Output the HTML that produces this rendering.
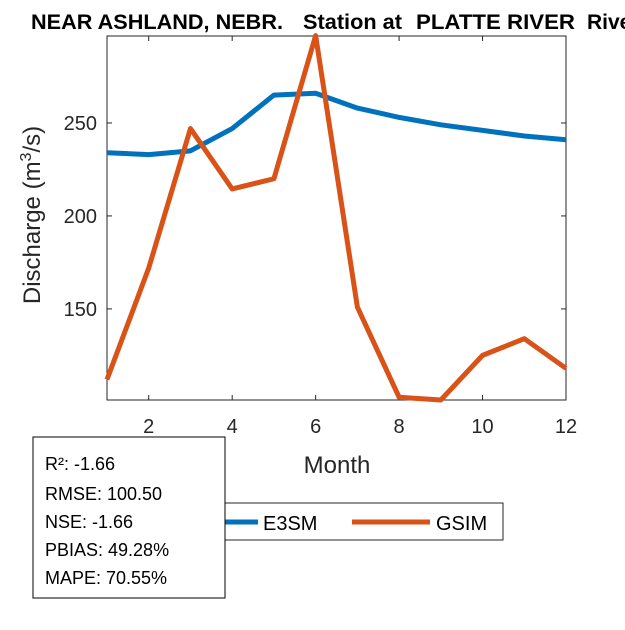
<!DOCTYPE html>
<html><head><meta charset="utf-8"><style>
body{margin:0;background:#fff;}
svg text{font-family:"Liberation Sans",Arial,sans-serif;}
</style></head><body>
<svg id="chart" width="625" height="625">
<g font-size="21" font-weight="bold" fill="#000">
<text x="31" y="29" textLength="252" lengthAdjust="spacingAndGlyphs">NEAR ASHLAND, NEBR.</text>
<text x="303" y="29" textLength="99" lengthAdjust="spacingAndGlyphs">Station at</text>
<text x="416" y="29" textLength="159" lengthAdjust="spacingAndGlyphs">PLATTE RIVER</text>
<text x="587" y="29">River</text>
</g>
<g id="axes"></g>
<g id="series"></g>
<text x="337" y="473" font-size="24" text-anchor="middle" fill="#262626">Month</text>
<text transform="translate(40,215) rotate(-90)" font-size="24" text-anchor="middle" fill="#262626">Discharge (m<tspan dy="-9" font-size="16">3</tspan><tspan dy="9">/s)</tspan></text>
<g>
<rect x="219" y="503" width="284" height="37" fill="#fff" stroke="#262626" stroke-width="1"/>
<line x1="225" y1="522" x2="258" y2="522" stroke="#0072BD" stroke-width="5"/>
<text x="263" y="530" font-size="20" fill="#000">E3SM</text>
<line x1="352" y1="522" x2="430" y2="522" stroke="#D95319" stroke-width="5"/>
<text x="436" y="530" font-size="20" fill="#000">GSIM</text>
</g>
<g>
<rect x="33" y="437" width="192" height="161" fill="#fff" stroke="#000" stroke-width="1"/>
<text font-size="18" fill="#000">
<tspan x="45" y="470">R²: -1.66</tspan>
<tspan x="45" y="500">RMSE: 100.50</tspan>
<tspan x="45" y="528">NSE: -1.66</tspan>
<tspan x="45" y="556">PBIAS: 49.28%</tspan>
<tspan x="45" y="584">MAPE: 70.55%</tspan>
</text>
</g>
</svg>
<script>
const months=[1,2,3,4,5,6,7,8,9,10,11,12];
const e3sm=[234,233,235,247,265,266,258,253,249,246,243,241];
const gsim=[112,172,247,214.5,220,297,151,102.5,101,125,134,118];
const xTicks=[2,4,6,8,10,12];
const yTicks=[150,200,250];
const NS='http://www.w3.org/2000/svg';
const X0=107,X1=566,Y0=400,Y1=30,xMin=1,xMax=12,yMin=101,yMax=300;
const YTOP=36;
const sx=v=>X0+(v-xMin)/(xMax-xMin)*(X1-X0);
const sy=v=>Y0-(v-yMin)/(yMax-yMin)*(Y0-Y1);
function mk(t,a,p){const e=document.createElementNS(NS,t);for(const k in a)e.setAttribute(k,a[k]);p.appendChild(e);return e;}
const ax=document.getElementById('axes');
const box=mk('rect',{x:X0,y:YTOP,width:X1-X0,height:Y0-YTOP,fill:'none',stroke:'#262626'},ax);


xTicks.forEach(v=>{const x=sx(v);mk('line',{x1:x,y1:Y0,x2:x,y2:Y0-5,stroke:'#262626'},ax);
mk('line',{x1:x,y1:YTOP,x2:x,y2:YTOP+5,stroke:'#262626'},ax);
const t=mk('text',{x:x,y:Y0+33,'font-size':20,'text-anchor':'middle',fill:'#262626'},ax);t.textContent=v;

});
yTicks.forEach(v=>{const y=sy(v);mk('line',{x1:X0,y1:y,x2:X0+5,y2:y,stroke:'#262626'},ax);
mk('line',{x1:X1,y1:y,x2:X1-5,y2:y,stroke:'#262626'},ax);
const t=mk('text',{x:X0-10,y:y+7,'font-size':20,'text-anchor':'end',fill:'#262626'},ax);t.textContent=v;

});
const sg=document.getElementById('series');
function line(data,color,name){const p=mk('polyline',{points:data.map((v,i)=>sx(months[i])+','+sy(v)).join(' '),fill:'none',stroke:color,'stroke-width':5,'stroke-linejoin':'round'},sg);

}
line(e3sm,'#0072BD','e3sm-line');
line(gsim,'#D95319','gsim-line');
</script>
</body></html>
